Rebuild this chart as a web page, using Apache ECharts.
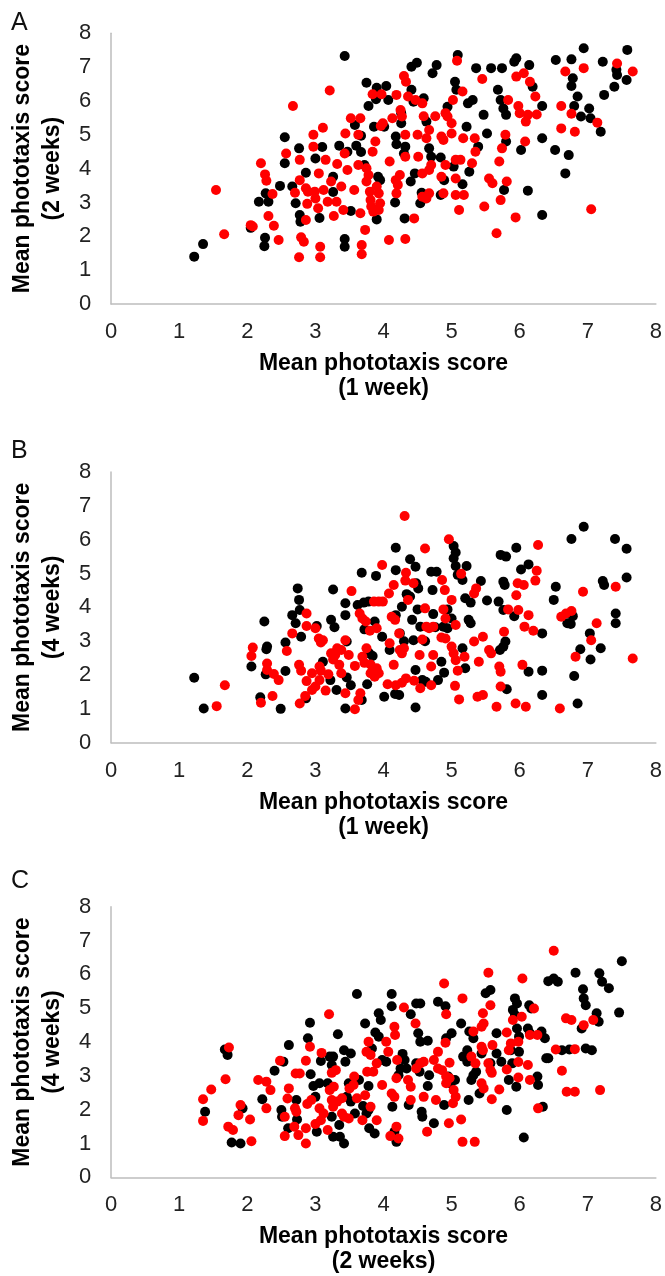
<!DOCTYPE html>
<html>
<head>
<meta charset="utf-8">
<script src="https://cdn.jsdelivr.net/npm/echarts@6/dist/echarts.min.js"></script>
<style>
  html, body { margin: 0; padding: 0; background: #fff; }
  #chart { width: 665px; height: 1276px; }
</style>
</head>
<body>
<div id="chart"></div>
<script>
// panel A: 1 week (x) vs 2 weeks (y)
var aBlack = [
  [1.22,1.40],[1.35,1.77],[2.05,2.25],[2.26,1.96],[2.25,1.71],[2.17,3.02],[2.31,3.02],[2.27,3.27],
  [2.48,3.49],[2.55,4.93],[2.55,4.16],[2.66,3.47],[2.76,4.60],[2.71,2.98],[2.77,2.63],[2.78,2.43],
  [2.86,3.88],[3.00,4.30],[3.10,4.64],[3.06,2.54],[3.26,3.76],[3.26,3.31],[3.35,4.68],[3.43,7.33],
  [3.47,4.50],[3.60,4.68],[3.58,5.29],[3.43,1.92],[3.43,1.69],[3.52,2.75],[3.67,4.97],[3.67,4.49],
  [3.72,4.11],[3.75,6.54],[3.78,5.85],[3.90,6.39],[3.89,6.05],[3.86,5.24],[3.92,3.76],[3.95,3.66],
  [3.90,2.50],[4.04,6.44],[4.07,6.03],[4.01,5.24],[4.19,4.72],[4.18,4.95],[4.17,3.00],[4.26,5.34],
  [4.26,5.64],[4.31,2.53],[4.41,7.01],[4.49,7.13],[4.41,6.33],[4.44,5.98],[4.32,4.65],[4.30,4.45],
  [4.40,3.62],[4.46,3.86],[4.54,2.98],[4.56,3.29],[4.59,6.08],[4.63,5.39],[4.72,6.82],[4.78,7.06],
  [4.67,4.60],[4.70,4.35],[4.84,4.33],[4.84,3.22],[4.89,3.66],[4.94,5.83],[5.05,6.57],[5.07,6.33],
  [5.09,7.36],[5.03,4.06],[5.16,3.54],[5.22,5.24],[5.24,5.93],[5.26,3.91],[5.31,6.03],[5.36,6.97],
  [5.39,4.65],[5.47,5.59],[5.52,5.04],[5.58,6.97],[5.68,6.33],[5.74,6.97],[5.72,6.03],[5.76,5.78],
  [5.80,5.59],[5.80,4.80],[5.77,3.37],[5.92,7.16],[5.95,7.26],[6.02,4.55],[6.14,7.06],[6.19,6.42],
  [6.12,3.35],[6.33,5.85],[6.33,4.90],[6.33,2.63],[6.52,4.55],[6.53,7.21],[6.72,4.40],[6.76,7.23],
  [6.78,6.67],[6.76,6.44],[6.67,3.86],[6.80,5.85],[6.85,6.13],[6.90,5.54],[6.94,7.56],[7.02,5.78],
  [7.04,5.49],[7.19,5.09],[7.22,7.16],[7.24,6.18],[7.39,6.42],[7.42,6.92],[7.43,6.77],[7.57,6.62],
  [7.58,7.51]
];
var aRed = [
  [1.54,3.37],[1.66,2.06],[2.05,2.33],[2.08,2.29],[2.20,4.16],[2.26,3.83],[2.28,3.64],[2.37,3.25],
  [2.31,2.60],[2.39,2.31],[2.46,1.89],[2.57,4.45],[2.67,5.85],[2.70,3.29],[2.77,4.26],[2.77,3.66],
  [2.86,3.42],[2.89,3.32],[2.88,2.96],[2.86,2.48],[2.79,1.97],[2.83,1.84],[2.76,1.38],[2.97,5.00],
  [2.97,4.65],[2.99,3.32],[3.00,3.12],[3.05,3.86],[3.04,2.83],[3.07,1.69],[3.07,1.38],[3.11,5.21],
  [3.12,3.37],[3.15,4.26],[3.18,3.02],[3.21,6.31],[3.23,3.62],[3.27,2.60],[3.31,3.02],[3.32,4.14],
  [3.38,3.47],[3.41,2.78],[3.43,4.45],[3.44,5.04],[3.47,3.96],[3.52,5.49],[3.66,5.49],[3.63,5.00],
  [3.57,3.37],[3.63,4.11],[3.66,2.68],[3.68,1.74],[3.68,1.47],[3.73,2.19],[3.75,4.01],[3.78,3.81],
  [3.75,3.62],[3.80,3.32],[3.81,3.07],[3.82,2.88],[3.85,2.73],[3.84,6.20],[3.97,6.20],[3.84,4.50],
  [3.88,4.80],[3.90,3.47],[3.93,3.27],[3.95,2.98],[3.93,2.78],[3.96,5.26],[3.99,5.34],[4.08,1.89],
  [4.09,4.21],[4.13,5.49],[4.18,3.66],[4.21,3.52],[4.19,3.27],[4.19,6.18],[4.24,3.81],[4.25,5.73],
  [4.27,5.54],[4.30,6.74],[4.33,6.57],[4.32,5.00],[4.32,4.35],[4.32,1.92],[4.36,6.13],[4.45,2.53],
  [4.47,6.03],[4.50,5.00],[4.51,4.35],[4.57,5.93],[4.57,3.86],[4.59,5.55],[4.63,4.90],[4.67,5.14],
  [4.57,3.17],[4.63,3.12],[4.67,3.27],[4.70,4.11],[4.67,3.96],[4.76,5.55],[4.85,4.95],[4.88,4.85],
  [4.85,3.76],[4.88,3.27],[4.91,5.64],[4.94,5.54],[5.00,5.04],[5.02,6.03],[5.00,5.34],[4.91,4.11],
  [5.06,4.26],[5.13,4.26],[5.06,3.71],[5.08,7.19],[5.06,3.22],[5.18,3.22],[5.11,2.78],[5.16,6.28],
  [5.17,4.90],[5.30,4.16],[5.34,4.90],[5.35,4.50],[5.45,6.65],[5.48,2.88],[5.55,3.71],[5.60,3.57],
  [5.66,2.09],[5.70,4.21],[5.72,3.07],[5.74,4.60],[5.79,5.00],[5.81,3.62],[5.83,6.03],[5.94,2.56],
  [5.95,6.72],[6.06,6.82],[5.98,5.85],[6.00,5.64],[6.08,4.80],[6.09,5.39],[6.12,5.59],[6.15,6.57],
  [6.23,6.13],[6.25,5.60],[6.61,5.85],[6.67,6.87],[6.61,5.19],[6.76,5.62],[6.81,5.09],[6.94,6.97],
  [7.05,2.80],[7.14,5.36],[7.43,7.11],[7.66,6.87]
];

// panel B: 1 week (x) vs 4 weeks (y)
var bBlack = [
  [1.22,1.92],[1.36,1.01],[2.06,2.25],[2.25,3.58],[2.28,2.76],[2.29,2.84],[2.27,2.02],[2.19,1.34],
  [2.49,1.00],[2.56,2.12],[2.56,2.96],[2.66,3.77],[2.71,3.53],[2.74,4.56],[2.76,4.22],[2.77,3.92],
  [2.79,3.13],[2.86,1.31],[3.02,3.45],[3.11,2.39],[3.22,1.85],[3.26,4.53],[3.23,3.63],[3.28,3.41],
  [3.31,1.56],[3.44,4.12],[3.44,3.77],[3.46,2.99],[3.44,1.01],[3.46,1.93],[3.52,1.70],[3.62,4.07],
  [3.68,5.02],[3.71,4.14],[3.78,4.17],[3.72,3.35],[3.68,1.26],[3.76,1.73],[3.79,2.64],[3.84,2.56],
  [3.89,4.93],[3.87,3.58],[3.98,3.13],[4.01,1.36],[4.09,2.74],[4.18,5.76],[4.18,5.10],[4.18,3.77],
  [4.17,1.44],[4.23,1.41],[4.24,3.23],[4.27,4.02],[4.30,3.00],[4.34,4.39],[4.39,4.32],[4.39,5.42],
  [4.42,3.63],[4.44,3.03],[4.47,5.20],[4.48,4.71],[4.51,4.56],[4.47,1.04],[4.47,2.15],[4.50,3.94],
  [4.54,3.43],[4.57,1.85],[4.62,1.80],[4.61,3.00],[4.70,5.05],[4.78,5.05],[4.72,4.51],[4.73,3.80],
  [4.76,3.41],[4.80,1.85],[4.85,2.39],[4.88,3.43],[4.94,3.38],[4.89,2.07],[4.94,3.94],[5.00,3.67],
  [5.03,5.81],[5.06,5.62],[5.03,5.45],[5.06,5.22],[5.09,4.96],[5.16,4.81],[5.22,5.22],[5.20,4.27],
  [5.16,2.79],[5.20,2.20],[5.25,3.63],[5.28,3.53],[5.28,4.14],[5.43,4.78],[5.52,4.20],[5.72,5.55],
  [5.80,5.50],[5.76,4.76],[5.78,4.66],[5.69,4.17],[5.76,3.92],[5.71,2.74],[5.76,2.84],[5.79,2.99],
  [5.81,1.58],[5.95,5.76],[5.92,3.74],[6.02,5.12],[6.13,2.10],[6.13,5.27],[6.33,3.23],[6.33,2.13],
  [6.33,1.41],[6.53,4.61],[6.50,4.22],[6.70,3.53],[6.75,3.51],[6.78,3.74],[6.76,6.02],[6.80,1.97],
  [6.85,1.16],[6.94,6.38],[6.89,2.76],[7.03,3.23],[7.04,2.46],[7.19,2.79],[7.22,4.78],[7.24,4.66],
  [7.40,6.02],[7.41,3.82],[7.41,3.53],[7.57,5.73],[7.57,4.88]
];
var bRed = [
  [1.55,1.08],[1.67,1.70],[2.08,2.81],[2.06,2.56],[2.20,1.18],[2.29,2.34],[2.29,2.15],[2.37,1.38],
  [2.39,2.03],[2.46,1.85],[2.58,2.71],[2.66,3.23],[2.76,2.30],[2.79,2.13],[2.77,1.16],[2.85,1.38],
  [2.87,3.82],[2.87,3.45],[2.87,1.82],[2.95,2.05],[2.95,1.56],[3.00,1.66],[3.00,3.38],[3.05,3.08],
  [3.08,2.96],[3.11,3.03],[3.06,2.25],[3.08,2.13],[3.06,1.85],[3.15,1.54],[3.19,2.02],[3.23,2.64],
  [3.26,2.46],[3.29,2.59],[3.32,2.79],[3.35,2.30],[3.38,2.05],[3.38,2.74],[3.44,3.03],[3.44,1.46],
  [3.49,2.59],[3.53,4.48],[3.58,2.27],[3.58,0.99],[3.63,1.26],[3.66,1.46],[3.65,3.82],[3.69,3.67],
  [3.74,3.58],[3.69,2.54],[3.72,2.36],[3.75,2.79],[3.81,2.05],[3.84,2.15],[3.86,2.10],[3.90,2.20],
  [3.93,2.05],[3.87,1.95],[3.81,2.31],[3.80,3.31],[3.86,4.17],[3.93,4.17],[3.99,4.17],[3.90,3.38],
  [3.98,5.25],[4.06,1.73],[4.08,4.41],[4.09,2.94],[4.15,4.66],[4.12,3.72],[4.17,3.63],[4.15,2.30],
  [4.18,1.70],[4.23,3.23],[4.24,2.74],[4.27,2.64],[4.30,2.79],[4.27,1.77],[4.31,6.70],[4.33,5.02],
  [4.32,4.79],[4.33,1.90],[4.36,4.22],[4.44,4.71],[4.45,1.83],[4.53,2.59],[4.54,1.61],[4.57,3.05],
  [4.61,5.74],[4.61,3.97],[4.63,3.43],[4.67,3.38],[4.73,3.43],[4.70,2.25],[4.70,1.70],[4.73,2.59],
  [4.86,4.81],[4.88,3.94],[4.85,3.11],[4.91,3.08],[4.90,4.51],[4.91,3.67],[4.96,6.01],[5.00,4.22],
  [5.00,2.84],[5.03,2.64],[5.06,2.44],[5.05,1.68],[5.06,3.48],[5.09,2.13],[5.11,1.28],[5.14,4.99],
  [5.19,2.54],[5.33,4.41],[5.36,4.56],[5.33,2.99],[5.38,1.36],[5.46,1.41],[5.40,2.39],[5.46,3.13],
  [5.55,2.74],[5.58,2.64],[5.66,1.06],[5.70,2.25],[5.72,2.10],[5.72,1.66],[5.77,3.28],[5.83,3.94],
  [5.94,1.16],[5.95,4.36],[5.97,4.71],[6.06,4.66],[5.98,3.92],[6.04,2.30],[6.07,3.43],[6.09,1.06],
  [6.13,3.77],[6.20,3.31],[6.25,5.08],[6.23,4.79],[6.27,5.84],[6.59,1.01],[6.61,3.72],[6.68,3.82],
  [6.76,3.89],[6.82,2.54],[6.93,4.46],[7.05,3.03],[7.13,3.53],[7.41,4.61],[7.66,2.49]
];

// panel C: 2 weeks (x) vs 4 weeks (y)
var cBlack = [
  [1.38,1.94],[1.67,3.78],[1.71,3.62],[1.77,1.03],[1.90,1.00],[1.93,2.04],[2.22,2.31],[2.40,3.15],
  [2.50,1.99],[2.51,1.79],[2.53,3.42],[2.61,3.91],[2.60,1.45],[2.72,2.29],[2.73,1.71],[2.92,4.57],
  [2.89,4.11],[2.93,3.05],[2.97,2.70],[3.00,2.38],[3.02,1.35],[3.06,2.78],[3.08,3.44],[3.18,2.78],
  [3.21,3.57],[3.26,3.57],[3.24,3.32],[3.24,1.79],[3.26,1.20],[3.33,4.23],[3.35,1.55],[3.36,1.20],
  [3.42,1.00],[3.42,3.76],[3.44,3.42],[3.46,2.38],[3.52,2.24],[3.49,2.78],[3.52,3.66],[3.58,1.89],
  [3.61,5.42],[3.64,2.88],[3.70,2.11],[3.73,4.55],[3.75,1.89],[3.78,1.99],[3.78,2.70],[3.79,1.45],
  [3.87,1.30],[3.83,3.81],[3.88,4.28],[3.93,4.16],[3.93,4.85],[3.96,4.65],[3.98,3.47],[4.04,3.42],
  [4.12,5.42],[4.12,5.06],[4.13,2.09],[4.16,1.35],[4.19,1.05],[4.22,3.02],[4.25,3.22],[4.28,3.65],
  [4.31,3.47],[4.34,3.22],[4.37,2.14],[4.40,4.82],[4.48,5.14],[4.54,5.14],[4.51,4.26],[4.54,4.01],
  [4.48,3.37],[4.53,3.12],[4.56,1.94],[4.57,1.79],[4.65,4.04],[4.67,3.02],[4.65,2.70],[4.74,1.60],
  [4.80,5.19],[4.91,5.06],[4.89,2.14],[4.92,4.11],[4.95,2.98],[4.98,2.78],[5.00,4.26],[5.05,2.88],
  [5.14,4.55],[5.17,3.57],[5.23,3.42],[5.23,3.76],[5.25,2.29],[5.26,4.31],[5.29,2.88],[5.32,3.02],
  [5.36,3.12],[5.32,4.11],[5.41,2.48],[5.44,3.66],[5.50,5.44],[5.57,5.54],[5.57,3.37],[5.66,3.66],
  [5.66,4.26],[5.73,3.42],[5.81,1.99],[5.84,2.88],[5.87,3.76],[5.89,3.37],[5.93,5.29],[5.96,5.14],
  [5.90,4.95],[5.93,4.80],[5.96,4.40],[5.99,4.16],[5.95,2.68],[5.99,3.71],[6.06,1.18],[6.12,4.40],
  [6.15,4.26],[6.14,5.09],[6.17,4.99],[6.26,2.98],[6.27,2.73],[6.32,4.31],[6.34,2.09],[6.37,4.11],
  [6.39,3.52],[6.42,3.52],[6.42,5.80],[6.50,5.88],[6.56,5.78],[6.62,3.76],[6.73,3.78],[6.82,6.05],
  [6.93,5.56],[6.94,5.29],[6.97,5.09],[6.91,4.40],[6.97,3.81],[7.06,3.76],[7.13,4.85],[7.16,4.60],
  [7.17,6.03],[7.21,5.78],[7.31,5.59],[7.46,4.87],[7.50,6.39]
];
var cRed = [
  [1.35,2.31],[1.35,1.67],[1.47,2.60],[1.68,2.90],[1.73,3.84],[1.72,1.50],[1.79,1.40],[1.87,1.84],
  [1.90,2.14],[2.04,1.71],[2.06,1.07],[2.16,2.88],[2.28,2.83],[2.28,2.04],[2.34,2.58],[2.48,3.45],
  [2.55,1.79],[2.55,1.22],[2.61,2.63],[2.59,2.33],[2.71,3.07],[2.77,3.07],[2.70,2.04],[2.72,1.94],
  [2.69,1.50],[2.75,1.25],[2.86,3.45],[2.86,1.45],[2.86,1.00],[2.92,3.86],[2.88,2.17],[2.94,2.29],
  [3.00,1.58],[3.08,1.69],[3.09,3.68],[3.06,2.04],[3.12,1.89],[3.18,1.40],[3.20,4.82],[3.24,3.09],
  [3.30,3.17],[3.21,2.58],[3.27,2.68],[3.24,2.29],[3.32,2.24],[3.39,2.34],[3.26,2.09],[3.39,1.89],
  [3.42,1.79],[3.49,1.74],[3.50,2.63],[3.56,2.73],[3.57,2.98],[3.61,2.34],[3.69,1.69],[3.73,2.43],
  [3.81,2.09],[3.75,3.71],[3.81,3.62],[3.78,4.01],[3.76,3.12],[3.85,3.12],[3.90,1.69],[3.90,3.37],
  [3.98,2.73],[4.04,4.01],[4.07,3.71],[4.10,1.22],[4.12,2.48],[4.16,2.38],[4.16,4.45],[4.17,4.21],
  [4.19,2.93],[4.20,3.47],[4.22,1.15],[4.19,1.50],[4.30,5.02],[4.36,2.88],[4.40,2.68],[4.40,2.29],
  [4.47,4.55],[4.48,3.22],[4.54,3.37],[4.59,3.42],[4.59,2.38],[4.64,1.35],[4.74,3.47],[4.77,2.29],
  [4.80,3.71],[4.80,3.22],[4.86,3.17],[4.89,5.73],[4.92,4.82],[4.91,3.98],[4.92,2.98],[4.97,2.93],
  [4.92,2.78],[4.96,1.60],[4.97,3.39],[5.03,2.58],[5.06,2.38],[5.02,2.19],[5.14,1.71],[5.16,5.29],
  [5.16,1.05],[5.32,4.31],[5.29,3.57],[5.34,1.05],[5.35,3.37],[5.44,3.86],[5.46,3.76],[5.44,2.78],
  [5.47,2.63],[5.46,4.85],[5.47,4.55],[5.44,4.45],[5.54,6.05],[5.57,5.09],[5.54,3.37],[5.57,3.17],
  [5.59,3.09],[5.59,2.31],[5.60,3.91],[5.70,2.60],[5.81,4.28],[5.81,3.19],[5.84,3.76],[5.87,3.96],
  [5.90,4.65],[5.98,3.41],[5.98,2.95],[5.98,4.01],[6.03,4.75],[6.04,5.88],[6.12,3.32],[6.15,2.88],
  [6.15,4.21],[6.21,4.99],[6.26,4.21],[6.27,2.04],[6.50,6.70],[6.53,3.78],[6.62,3.15],[6.68,4.70],
  [6.69,2.53],[6.76,4.65],[6.81,2.53],[6.81,3.79],[6.94,4.50],[7.08,4.65],[7.18,2.58]
];

var axisMin = 0
var axisMax = 8
var axisStep = 1
var panelLetters = ['A', 'B', 'C']
var xNames = ['Mean phototaxis score\n(1 week)', 'Mean phototaxis score\n(1 week)', 'Mean phototaxis score\n(2 weeks)']
var yNames = ['Mean phototaxis score\n(2 weeks)', 'Mean phototaxis score\n(4 weeks)', 'Mean phototaxis score\n(4 weeks)']
var panelData = [[aBlack, aRed], [bBlack, bRed], [cBlack, cRed]]

var FONT = '"Liberation Sans", Arial, sans-serif'
var gridTops = [33.3, 472, 906.7]
var letterTops = [11, 439, 869]

var grids = [], xAxes = [], yAxes = [], series = [], titles = []
for (var i = 0; i < 3; i++) {
  grids.push({ left: 101, width: 556, top: gridTops[i], height: 270.7, containLabel: false })
  titles.push({
    text: panelLetters[i], left: 11, top: letterTops[i], padding: 0,
    textStyle: { fontFamily: FONT, fontSize: 25, fontWeight: 'normal', color: '#111' }
  })
  var axisCommon = {
    gridIndex: i,
    type: 'value',
    min: axisMin,
    max: axisMax,
    interval: axisStep,
    nameLocation: 'middle',
    nameTextStyle: { fontFamily: FONT, fontSize: 23, fontWeight: 'bold', color: '#000' },
    axisLine: { show: true, onZero: false, lineStyle: { color: '#bdbdbd', width: 1.5 } },
    axisTick: { show: false },
    splitLine: { show: false },
    axisLabel: { fontFamily: FONT, fontSize: 22, color: '#222' }
  }
  xAxes.push(Object.assign({}, axisCommon, {
    name: xNames[i],
    nameGap: 47,
    nameTextStyle: Object.assign({}, axisCommon.nameTextStyle, { lineHeight: 25 }),
    axisLabel: Object.assign({}, axisCommon.axisLabel, { margin: 17 })
  }))
  yAxes.push(Object.assign({}, axisCommon, {
    name: yNames[i],
    nameGap: 33,
    nameTextStyle: Object.assign({}, axisCommon.nameTextStyle, { lineHeight: 30 }),
    axisLabel: Object.assign({}, axisCommon.axisLabel, { margin: 20 })
  }))
  // black first, red drawn over it
  series.push({
    type: 'scatter', xAxisIndex: i, yAxisIndex: i,
    data: panelData[i][0], symbolSize: 10,
    itemStyle: { color: '#000', opacity: 1 }
  })
  series.push({
    type: 'scatter', xAxisIndex: i, yAxisIndex: i,
    data: panelData[i][1], symbolSize: 10,
    itemStyle: { color: '#ff0000', opacity: 1 }
  })
}

var myChart = echarts.init(document.getElementById('chart'))
myChart.setOption({
  animation: false,
  backgroundColor: '#fff',
  title: titles,
  grid: grids,
  xAxis: xAxes,
  yAxis: yAxes,
  series: series
})
</script>
</body>
</html>
